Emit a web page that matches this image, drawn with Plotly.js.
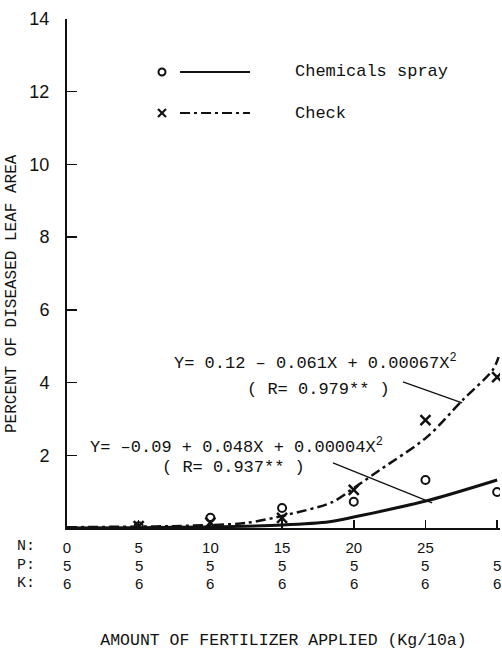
<!DOCTYPE html>
<html><head><meta charset="utf-8">
<script src="https://cdn.plot.ly/plotly-3.0.1.min.js"></script>
<style>html,body{margin:0;padding:0;background:#fff}#chart{width:502px;height:654px}</style>
</head><body><div id="chart"></div>
<script>
// Fertilizer levels (kg/10a)
const fertN = [0, 5, 10, 15, 20, 25, 30];
const fertP = [5, 5, 5, 5, 5, 5, 5];
const fertK = [6, 6, 6, 6, 6, 6, 6];
const yTicks = [2, 4, 6, 8, 10, 12, 14];

// Observed points
const sprayX = [5, 10, 15, 20, 25, 30];
const sprayY = [0.05, 0.28, 0.55, 0.72, 1.32, 0.99];
const checkX = [5, 10, 15, 20, 25, 30];
const checkY = [0.05, 0.15, 0.28, 1.05, 2.97, 4.15];

// Fitted curves
const sprayCurveX = [0, 5, 10, 15, 18.3, 20, 25.3, 30];
const sprayCurveY = [0, 0.01, 0.03, 0.08, 0.17, 0.3, 0.77, 1.32];
const checkCurveX = [0, 5, 7.2, 12.5, 15.3, 18.5, 20.1, 21.8, 25.1, 27.6, 29.7, 30.1];
const checkCurveY = [0.02, 0.04, 0.05, 0.14, 0.36, 0.71, 1.13, 1.59, 2.5, 3.52, 4.35, 4.7];

const seriesNames = ['Chemicals spray', 'Check'];
const eqCheck = ['Y= 0.12 – 0.061X + 0.00067X<sup>2</sup>', '( R= 0.979** )'];
const eqSpray = ['Y= –0.09 + 0.048X + 0.00004X<sup>2</sup>', '( R= 0.937** )'];

const MONO = 'Liberation Mono, Courier New, monospace';
const SANS = 'Liberation Sans, Arial, sans-serif';
const INK = '#111';
const ROW_Y = [-0.0373, -0.0727, -0.1081];   // N, P, K rows (paper units below the axis)

const traces = [
  {x: sprayCurveX, y: sprayCurveY, mode: 'lines', line: {color: INK, width: 3, shape: 'spline', smoothing: 0.8}, hoverinfo: 'skip'},
  {x: checkCurveX, y: checkCurveY, mode: 'lines', line: {color: INK, width: 2.5, dash: '10px,4px,3px,4px', shape: 'spline', smoothing: 0.8}, hoverinfo: 'skip'},
  {x: sprayX, y: sprayY, mode: 'markers', name: seriesNames[0], marker: {symbol: 'circle-open', size: 8, color: INK, line: {width: 2, color: INK}}},
  {x: checkX, y: checkY, mode: 'markers', name: seriesNames[1], marker: {symbol: 'x-thin-open', size: 10, color: INK, line: {width: 2.5, color: INK}}}
];

const ann = [];
// P and K rows beneath N tick labels
fertN.forEach((n, i) => {
  ann.push({xref: 'x', yref: 'paper', x: n, y: ROW_Y[1], text: String(fertP[i]), showarrow: false, font: {family: SANS, size: 15, color: INK}, xanchor: 'center', yanchor: 'middle'});
  ann.push({xref: 'x', yref: 'paper', x: n, y: ROW_Y[2], text: String(fertK[i]), showarrow: false, font: {family: SANS, size: 15, color: INK}, xanchor: 'center', yanchor: 'middle'});
});
['N:', 'P:', 'K:'].forEach((t, i) => {
  ann.push({xref: 'paper', yref: 'paper', x: -0.0947, y: ROW_Y[i], text: t, showarrow: false, font: {family: MONO, size: 15, color: INK}, xanchor: 'center', yanchor: 'middle'});
});
// y-axis title (placed to match the reference's vertical offset)
ann.push({xref: 'paper', yref: 'paper', x: -0.127, y: 0.4597, text: 'PERCENT OF DISEASED LEAF AREA', textangle: -90, showarrow: false, font: {family: MONO, size: 16, color: INK}, xanchor: 'center', yanchor: 'middle'});
// legend texts
ann.push({xref: 'paper', yref: 'paper', x: 0.5219, y: 0.8959, text: seriesNames[0], showarrow: false, font: {family: MONO, size: 17, color: INK}, xanchor: 'left', yanchor: 'middle'});
ann.push({xref: 'paper', yref: 'paper', x: 0.5219, y: 0.8153, text: seriesNames[1], showarrow: false, font: {family: MONO, size: 17, color: INK}, xanchor: 'left', yanchor: 'middle'});
// equations
ann.push({xref: 'paper', yref: 'paper', x: 0.2425, y: 0.3262, text: eqCheck[0], showarrow: false, font: {family: MONO, size: 17, color: INK}, xanchor: 'left', yanchor: 'middle'});
ann.push({xref: 'paper', yref: 'paper', x: 0.4111, y: 0.2730, text: eqCheck[1], showarrow: false, font: {family: MONO, size: 17, color: INK}, xanchor: 'left', yanchor: 'middle'});
ann.push({xref: 'paper', yref: 'paper', x: 0.0485, y: 0.1602, text: eqSpray[0], showarrow: false, font: {family: MONO, size: 17, color: INK}, xanchor: 'left', yanchor: 'middle'});
ann.push({xref: 'paper', yref: 'paper', x: 0.2148, y: 0.1198, text: eqSpray[1], showarrow: false, font: {family: MONO, size: 17, color: INK}, xanchor: 'left', yanchor: 'middle'});

const shapes = [
  // pointer lines from equations to curves
  {type: 'line', xref: 'x', yref: 'y', x0: 23.43, y0: 4.02, x1: 27.56, y1: 3.44, line: {color: INK, width: 1.3}},
  {type: 'line', xref: 'x', yref: 'y', x0: 18.55, y0: 1.79, x1: 25.47, y1: 0.69, line: {color: INK, width: 1.3}},
  // legend: circle marker + solid line
  {type: 'circle', xref: 'paper', yref: 'paper', xsizemode: 'pixel', ysizemode: 'pixel', xanchor: 0.2194, yanchor: 0.8959, x0: -3.5, x1: 3.5, y0: -3.5, y1: 3.5, line: {color: INK, width: 2}},
  {type: 'line', xref: 'paper', yref: 'paper', x0: 0.261, x1: 0.4226, y0: 0.8959, y1: 0.8959, line: {color: INK, width: 2}},
  // legend: x marker + dash-dot line
  {type: 'line', xref: 'paper', yref: 'paper', xsizemode: 'pixel', ysizemode: 'pixel', xanchor: 0.2194, yanchor: 0.8153, x0: -4, x1: 4, y0: -4, y1: 4, line: {color: INK, width: 2.2}},
  {type: 'line', xref: 'paper', yref: 'paper', xsizemode: 'pixel', ysizemode: 'pixel', xanchor: 0.2194, yanchor: 0.8153, x0: -4, x1: 4, y0: 4, y1: -4, line: {color: INK, width: 2.2}},
  {type: 'line', xref: 'paper', yref: 'paper', x0: 0.261, x1: 0.4226, y0: 0.8153, y1: 0.8153, line: {color: INK, width: 2, dash: '10px,4px,3px,4px'}}
];

const layout = {
  width: 502, height: 654,
  margin: {l: 67, r: 2, t: 19, b: 126},
  paper_bgcolor: '#fff', plot_bgcolor: '#fff',
  showlegend: false,
  xaxis: {
    range: [0, 30.2], tickvals: fertN, ticktext: fertN.map(String),
    ticks: 'inside', ticklen: 8, tickwidth: 1.5, tickcolor: INK,
    showline: true, linecolor: INK, linewidth: 2,
    showgrid: false, zeroline: false, fixedrange: true,
    ticklabelstandoff: 5,
    tickfont: {family: SANS, size: 15, color: INK},
    title: {text: 'AMOUNT OF FERTILIZER APPLIED (Kg/10a)', standoff: 78, font: {family: MONO, size: 16.5, color: INK}}
  },
  yaxis: {
    range: [0, 14], tickvals: yTicks, ticktext: yTicks.map(String),
    ticks: 'inside', ticklen: 10, tickwidth: 1.5, tickcolor: INK,
    showline: true, linecolor: INK, linewidth: 2,
    showgrid: false, zeroline: false, fixedrange: true,
    ticklabelstandoff: 12,
    tickfont: {family: SANS, size: 18, color: INK}
  },
  annotations: ann,
  shapes: shapes
};

Plotly.newPlot('chart', traces, layout, {displayModeBar: false, staticPlot: true});
</script>
</body></html>
